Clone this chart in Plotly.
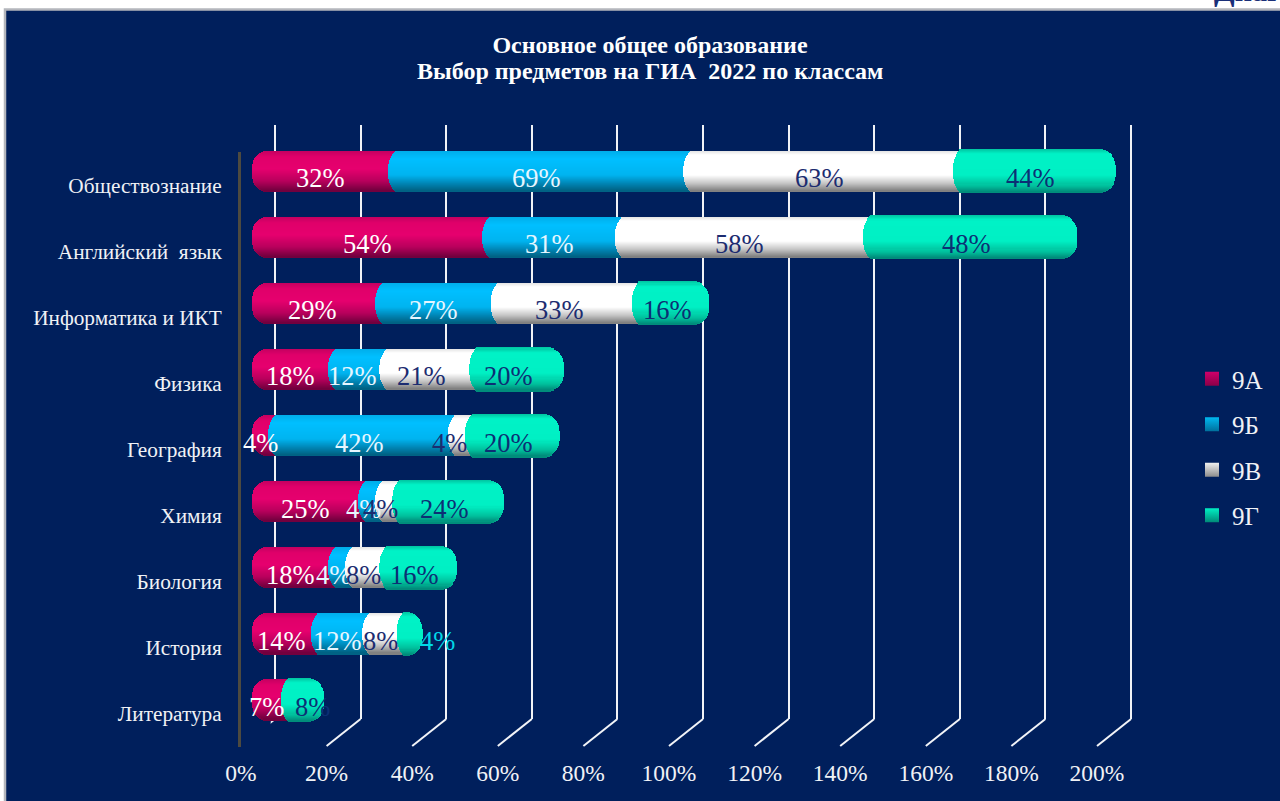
import plotly.graph_objects as go

# ---- data ----
categories = ["Обществознание", "Английский\u00a0\u00a0язык", "Информатика и ИКТ", "Физика",
              "География", "Химия", "Биология", "История", "Литература"]
series_names = ["9А", "9Б", "9В", "9Г"]
values_9a = [32, 54, 29, 18, 4, 25, 18, 14, 7]
values_9b = [69, 31, 27, 12, 42, 4, 4, 12, 0]
values_9v = [63, 58, 33, 21, 4, 4, 8, 8, 0]
values_9g = [44, 48, 16, 20, 20, 24, 16, 4, 8]
x_tick_values = list(range(0, 201, 20))
x_tick_labels = [f"{v}%" for v in x_tick_values]
title_line_1 = "Основное общее образование"
title_line_2 = "Выбор предметов на ГИА\u00a0\u00a02022 по классам"

# ---- style ----
W, H = 1280, 801
FONT = "Liberation Serif"
NAVY = "#001f5c"
UNIT = 4.28              # pixels per percent
BAR_RANGE = 206          # percent shown on the bar axis
CAP = 201.8              # the bars stop just past the end of the axis
END_CAP_PX = 8           # the rounded end reaches a little past the value
STRIPS = 40
BAND = 66.1
series_values = [values_9a, values_9b, values_9v, values_9g]
thickness = [40, 40, 40, 43]
ramps = [
    [(0, "#c40060"), (.15, "#e0006a"), (.45, "#e6006e"), (.75, "#b8005c"), (1, "#6e003c")],
    [(0, "#00aeea"), (.2, "#00bfff"), (.6, "#00b4f0"), (.8, "#0088b8"), (1, "#005f80")],
    [(0, "#e4e4e4"), (.1, "#ffffff"), (.6, "#ffffff"), (.8, "#c8c8c8"), (1, "#7c7c7c")],
    [(0, "#00c4a0"), (.12, "#00f2c6"), (.6, "#00f0c4"), (.85, "#00c09c"), (1, "#008878")],
]
label_colors = ["#ffffff", "#e6f6ff", "#1c2c70", "#0c2f74"]
legend_dark = ["#8a0048", "#00709c", "#8c8c8c", "#008a78"]
legend_light = ["#d0006a", "#00b8f0", "#f0f0f0", "#00f0c4"]


def hex_mix(ramp, t):
    for (t0, c0), (t1, c1) in zip(ramp, ramp[1:]):
        if t <= t1:
            f = (t - t0) / (t1 - t0)
            a = [int(c0[i:i + 2], 16) for i in (1, 3, 5)]
            b = [int(c1[i:i + 2], 16) for i in (1, 3, 5)]
            return "rgb(%d,%d,%d)" % tuple(round(p + (q - p) * f) for p, q in zip(a, b))
    return ramp[-1][1]


def px_x(p):
    return p / W


def px_y(p):
    return 1 - p / H


fig = go.Figure()

# back wall: carries only the vertical grid
fig.add_trace(go.Scatter(x=[0], y=[0], xaxis="x", yaxis="y", mode="markers",
                         marker=dict(opacity=0), showlegend=False, hoverinfo="skip"))

# bars, painted as thin horizontal strips for the cylinder shading
n = len(categories)
for s, vals in enumerate(series_values):
    h_px = thickness[s]
    for k in range(STRIPS):
        t0 = k / STRIPS
        tc = (k + .5) / STRIPS
        u = abs(2 * tc - 1)
        left_round = 7 * u ** 2.5
        first_round = 15 * (1 - (1 - u ** 2.6) ** .5)
        right_round = 17 * (1 - (1 - u ** 2.6) ** .5)
        bases, widths = [], []
        for i in range(n):
            before = sum(series_values[j][i] for j in range(s))
            after = sum(series_values[j][i] for j in range(s + 1, 4))
            v = vals[i]
            if v == 0:
                bases.append(None)
                widths.append(None)
                continue
            start = before
            if before == 0:
                start += first_round / UNIT
            else:
                start += (left_round - 1) / UNIT
            if after == 0:
                end = min(before + v + END_CAP_PX / UNIT, CAP) - right_round / UNIT
            else:
                end = before + v + 8 / UNIT
            bases.append(start)
            widths.append(end - start)
        fig.add_trace(go.Bar(
            y=categories, x=widths, base=bases, orientation="h",
            xaxis="x2", yaxis="y2",
            offset=(-h_px / 2 + t0 * h_px) / BAND,
            width=(h_px / STRIPS + .7) / BAND,
            marker=dict(color=hex_mix(ramps[s], tc), line=dict(width=0)),
            showlegend=False, hoverinfo="skip",
        ))

# front plane: axis line, category labels and percent labels
fig.add_trace(go.Scatter(x=[0], y=[categories[0]], xaxis="x3", yaxis="y3", mode="markers",
                         marker=dict(opacity=0), showlegend=False, hoverinfo="skip"))

# legend entries
for s, name in enumerate(series_names):
    fig.add_trace(go.Scatter(
        x=[None], y=[None], xaxis="x3", yaxis="y3", mode="markers", name=name,
        legendgroup=name,
        marker=dict(symbol="square", size=14, color=legend_light[s],
                    gradient=dict(type="vertical", color=legend_dark[s]),
                    line=dict(width=0)),
    ))

# value labels
label_shift = {(3, 7): 31, (2, 4): -8, (3, 8): 13, (1, 5): -4, (2, 5): -4, (1, 6): -4,
               (1, 3): -2, (2, 3): -4, (3, 3): -5, (2, 2): -3, (0, 2): -2, (3, 0): -4}
annotations = []
for s, vals in enumerate(series_values):
    for i, v in enumerate(vals):
        if v == 0:
            continue
        before = sum(series_values[j][i] for j in range(s))
        mid = (before + min(before + v, CAP)) / 2
        color = "#00d8e8" if (s, i) == (3, 7) else label_colors[s]
        annotations.append(dict(
            x=mid, y=categories[i], xref="x2", yref="y2", text=f"{v}%", showarrow=False,
            yshift=-7, xshift=label_shift.get((s, i), 0),
            font=dict(family=FONT, size=26.5, color=color),
        ))
annotations.append(dict(
    x=px_x(650), y=px_y(71), xref="paper", yref="paper", xanchor="center", yanchor="middle",
    text=f"<b>{title_line_2}</b>", showarrow=False,
    font=dict(family=FONT, size=24, color="#ffffff"),
))
annotations.append(dict(
    x=px_x(1212), y=px_y(8.5), xref="paper", yref="paper", xanchor="left", yanchor="bottom",
    text="<b>Диаграмма</b>", showarrow=False, font=dict(family=FONT, size=30, color="#1a2f78"),
))

shapes = [dict(type="rect", xref="paper", yref="paper", x0=px_x(5), x1=1.01, y0=-.01, y1=px_y(9.5),
               fillcolor=NAVY, line=dict(color="#b4b6bc", width=2.5), layer="below")]
for v in x_tick_values:
    shapes.append(dict(type="line", xref="x", yref="paper", xsizemode="pixel", xanchor=v,
                       x0=-34, x1=0, y0=px_y(746), y1=px_y(719),
                       line=dict(color="#f2f4f8", width=2), layer="below"))

white = "#f0f2f6"
fig.update_layout(
    width=W, height=H, margin=dict(l=0, r=0, t=0, b=0, autoexpand=False),
    paper_bgcolor="#ffffff", plot_bgcolor="rgba(0,0,0,0)",
    barmode="overlay", bargap=0,
    title=dict(text=title_line_1,
               x=px_x(650), xanchor="center", y=px_y(45), yanchor="middle",
               font=dict(family=FONT, size=24, color="#ffffff", weight="bold")),
    xaxis=dict(domain=[px_x(275 - UNIT), px_x(1131 + UNIT)], range=[-1, 201], tickvals=x_tick_values,
               showgrid=True, gridcolor=white, gridwidth=2, zeroline=False,
               showticklabels=False, anchor="y"),
    yaxis=dict(domain=[px_y(719), px_y(125)], range=[-1, 1], showgrid=False, zeroline=False,
               showticklabels=False, anchor="x"),
    xaxis2=dict(domain=[px_x(252), px_x(252 + UNIT * BAR_RANGE)], range=[0, BAR_RANGE],
                showgrid=False, zeroline=False, showticklabels=False, anchor="y2"),
    yaxis2=dict(domain=[px_y(733), px_y(138)], type="category", categoryorder="array",
                categoryarray=categories, range=[n - .5, -.5], showgrid=False,
                zeroline=False, showticklabels=False, anchor="x2"),
    xaxis3=dict(domain=[px_x(241), px_x(1097)], range=[0, 200], tickvals=x_tick_values,
                ticktext=x_tick_labels, showgrid=False, zeroline=False, ticks="",
                ticklabelstandoff=9, tickfont=dict(family=FONT, size=23.5, color=white),
                anchor="y3"),
    yaxis3=dict(domain=[px_y(747), px_y(152)], type="category", categoryorder="array",
                categoryarray=categories, range=[n - .5, -.5], showgrid=False, zeroline=False,
                showline=True, linecolor="#4d4a40", linewidth=3, ticks="",
                ticklabelstandoff=12, tickfont=dict(family=FONT, size=21.3, color=white),
                anchor="x3"),
    legend=dict(x=px_x(1192), y=px_y(356), xanchor="left", yanchor="top",
                bgcolor="rgba(0,0,0,0)", tracegroupgap=10, itemwidth=30,
                font=dict(family=FONT, size=25, color=white)),
    shapes=shapes, annotations=annotations,
)

fig.write_html("out.html", config={"displayModeBar": False},
               post_script="document.body.style.margin='0';document.body.style.overflow='hidden';")
